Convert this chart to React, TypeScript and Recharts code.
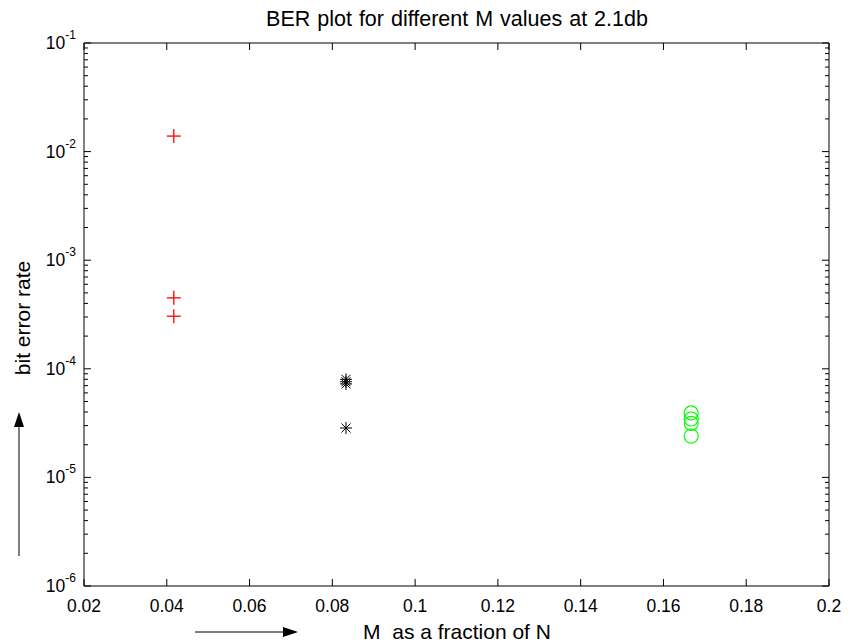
import React from "react";
import { ScatterChart, Scatter, XAxis, YAxis, ReferenceArea } from "recharts";

const W = 850;
const H = 644;
const LEFT = 84;
const TOP = 43;
const RIGHT = 829;
const BOTTOM = 586;
const FONT = "'Liberation Sans', Arial, sans-serif";

// data
const plusM = [0.0417, 0.0417, 0.0417];
const plusBer = [1.39e-2, 4.5e-4, 3.05e-4];
const starM = [0.0833, 0.0833, 0.0833, 0.0833];
const starBer = [8.0e-5, 7.6e-5, 7.25e-5, 2.85e-5];
const circleM = [0.1667, 0.1667, 0.1667, 0.1667];
const circleBer = [3.92e-5, 3.45e-5, 3.15e-5, 2.4e-5];

const xTicks = [0.02, 0.04, 0.06, 0.08, 0.1, 0.12, 0.14, 0.16, 0.18, 0.2];
const xTickLabels = ["0.02", "0.04", "0.06", "0.08", "0.1", "0.12", "0.14", "0.16", "0.18", "0.2"];
const yMajor = [1e-6, 1e-5, 1e-4, 1e-3, 1e-2, 1e-1];
const yExponents = ["-6", "-5", "-4", "-3", "-2", "-1"];
const minorSteps = [2, 3, 4, 5, 6, 7, 8, 9];

const yTicks: number[] = [];
yMajor.forEach((p, i) => {
  yTicks.push(p);
  if (i < yMajor.length - 1) minorSteps.forEach((k) => yTicks.push(k * p));
});

const toPoints = (xs: number[], ys: number[]) => xs.map((m, i) => ({ m, ber: ys[i] }));
const plusData = toPoints(plusM, plusBer);
const starData = toPoints(starM, starBer);
const circleData = toPoints(circleM, circleBer);

const XTick = (props: any) => {
  const { x, payload } = props;
  const idx = xTicks.findIndex((t) => Math.abs(t - payload.value) < 1e-9);
  return (
    <g>
      <line x1={x} x2={x} y1={BOTTOM} y2={BOTTOM - 7} stroke="#000" />
      <line x1={x} x2={x} y1={TOP} y2={TOP + 7} stroke="#000" />
      <text x={x} y={612} textAnchor="middle" fontSize={17.5} fontFamily={FONT} fill="#000">
        {idx >= 0 ? xTickLabels[idx] : ""}
      </text>
    </g>
  );
};

const YTick = (props: any) => {
  const { y, payload } = props;
  const idx = yMajor.findIndex((t) => Math.abs(Math.log10(t) - Math.log10(payload.value)) < 1e-6);
  const len = idx >= 0 ? 7 : 4;
  return (
    <g>
      <line x1={LEFT} x2={LEFT + len} y1={y} y2={y} stroke="#000" />
      <line x1={RIGHT} x2={RIGHT - len} y1={y} y2={y} stroke="#000" />
      {idx >= 0 && (
        <text x={76} y={y + 6} textAnchor="end" fontSize={17.5} fontFamily={FONT} fill="#000">
          <tspan>10</tspan>
          <tspan dy={-10} fontSize={12}>{yExponents[idx]}</tspan>
        </text>
      )}
    </g>
  );
};

const PlusShape = (props: any) => {
  const { cx, cy } = props;
  return (
    <g stroke="#ff0000" strokeWidth={1.3}>
      <line x1={cx - 7} x2={cx + 7} y1={cy} y2={cy} />
      <line x1={cx} x2={cx} y1={cy - 7} y2={cy + 7} />
    </g>
  );
};

const StarShape = (props: any) => {
  const { cx, cy } = props;
  return (
    <g stroke="#000" strokeWidth={1}>
      <line x1={cx - 6} x2={cx + 6} y1={cy} y2={cy} />
      <line x1={cx} x2={cx} y1={cy - 6} y2={cy + 6} />
      <line x1={cx - 4.5} x2={cx + 4.5} y1={cy - 4.5} y2={cy + 4.5} />
      <line x1={cx - 4.5} x2={cx + 4.5} y1={cy + 4.5} y2={cy - 4.5} />
    </g>
  );
};

const CircleShape = (props: any) => {
  const { cx, cy } = props;
  return <circle cx={cx} cy={cy} r={7} fill="none" stroke="#00ff00" strokeWidth={1.2} />;
};

export default function App() {
  return (
    <div style={{ position: "absolute", left: 0, top: 0, width: W, height: H, background: "#fff" }}>
      <ScatterChart
        width={W}
        height={H}
        margin={{ top: TOP, right: W - RIGHT, bottom: 0, left: 0 }}
      >
        <XAxis
          type="number"
          dataKey="m"
          domain={[0.02, 0.2]}
          ticks={xTicks}
          interval={0}
          allowDataOverflow
          height={H - BOTTOM}
          tickLine={false}
          axisLine={false}
          tick={XTick}
        />
        <YAxis
          type="number"
          dataKey="ber"
          scale="log"
          domain={[1e-6, 1e-1]}
          ticks={yTicks}
          interval={0}
          allowDataOverflow
          width={LEFT}
          tickLine={false}
          axisLine={false}
          tick={YTick}
        />
        <ReferenceArea x1={0.02} x2={0.2} y1={1e-6} y2={1e-1} fill="none" stroke="#000" strokeWidth={1} ifOverflow="visible" />
        <Scatter data={plusData} shape={PlusShape} isAnimationActive={false} />
        <Scatter data={starData} shape={StarShape} isAnimationActive={false} />
        <Scatter data={circleData} shape={CircleShape} isAnimationActive={false} />
      </ScatterChart>
      <svg
        width={W}
        height={H}
        style={{ position: "absolute", left: 0, top: 0, pointerEvents: "none" }}
        fontFamily={FONT}
      >
        <text x={457} y={26} textAnchor="middle" fontSize={21.5} fill="#000" wordSpacing={1}>
          BER plot for different M values at 2.1db
        </text>
        <text x={457} y={639} textAnchor="middle" fontSize={21} fill="#000" style={{ whiteSpace: "pre" }}>
          {"M  as a fraction of N"}
        </text>
        <line x1={195} x2={284} y1={632} y2={632} stroke="#000" />
        <polygon points="298,632 283,627 283,637" fill="#000" />
        <text
          x={30}
          y={318}
          textAnchor="middle"
          fontSize={21}
          fill="#000"
          transform="rotate(-90 30 318)"
        >
          bit error rate
        </text>
        <line x1={19} x2={19} y1={556} y2={426} stroke="#000" />
        <polygon points="19,412 14,427 24,427" fill="#000" />
      </svg>
    </div>
  );
}
